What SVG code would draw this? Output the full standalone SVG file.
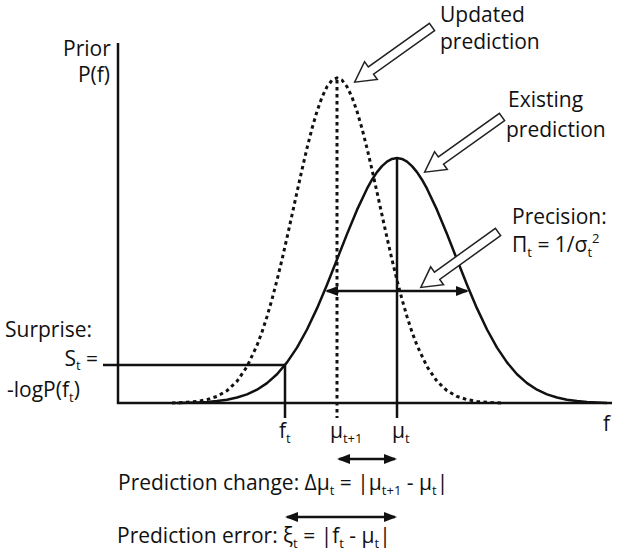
<svg xmlns="http://www.w3.org/2000/svg" width="617" height="552" viewBox="0 0 617 552">
<defs>
<style>
.t{font-family:"Open Sans","Liberation Sans",sans-serif;font-size:21px;fill:#111}
.s{font-size:13px}
.ln{stroke:#111;stroke-width:2.5;fill:none}
.dot{stroke:#111;stroke-width:3;fill:none;stroke-dasharray:3.5 3.5}
.ha{fill:#fff;stroke:#222;stroke-width:1.5;stroke-linejoin:miter}
.da{stroke:#111;stroke-width:2.5;fill:none;marker-start:url(#ah);marker-end:url(#ah)}
</style>
<marker id="ah" viewBox="0 0 13 10" refX="11" refY="5" markerWidth="13" markerHeight="10" markerUnits="userSpaceOnUse" orient="auto-start-reverse">
<path d="M0,0 L13,5 L0,10 Z" fill="#111"/>
</marker>
<polygon id="hollow" points="0,-4.5 75,-4.5 75,-11 95,0 75,11 75,4.5 0,4.5"/>
</defs>
<rect width="617" height="552" fill="#fff"/>

<g id="connectors">
<path class="ln" d="M118,43 V404 M117,403 H612"/>
<path class="ln" d="M103,365 H285 M285,365 V418"/>
<polyline class="ln" stroke-linejoin="round" points="177,403 197,402.4 207,401.9 217,401 227,399.7 237,397.5 247,394.4 257,389.7 267,383.1 277,374.2 287,362.4 297,347.6 307,329.5 317,308.4 327,284.7 337,259.5 347,234.1 357,209.9 367,188.7 372,179.7 377,172.1 382,166.1 387,161.6 392,158.9 397,158 402,158.9 407,161.6 412,166.1 417,172.1 422,179.7 427,188.7 437,209.9 447,234.1 457,259.5 467,284.7 477,308.4 487,329.5 497,347.6 507,362.4 517,374.2 527,383.1 537,389.7 547,394.4 557,397.5 567,399.7 577,401 587,401.9 597,402.4 607,403"/>
<polyline class="dot" points="172,403 187,402.3 197,401.4 207,399.6 217,396.4 227,390.7 237,381.3 247,366.6 257,345.4 262,332 267,316.6 272,299.3 277,280.2 282,259.6 287,237.7 292,215 297,192.1 302,169.6 307,148.2 312,128.5 317,111.3 322,97.2 327,86.7 332,80.2 337,78 342,80.2 347,86.7 352,97.2 357,111.3 362,128.5 367,148.2 372,169.6 377,192.1 382,215 387,237.7 392,259.6 397,280.2 402,299.3 407,316.6 412,332 417,345.4 427,366.6 437,381.3 447,390.7 457,396.4 467,399.6 477,401.4 487,402.3 502,403"/>
<path class="ln" d="M397,158 V418"/>
<path class="dot" d="M337,80 V418"/>
<line class="da" x1="327" y1="291" x2="467" y2="291"/>
<line class="da" x1="339" y1="459" x2="395" y2="459"/>
<line class="da" x1="287" y1="517" x2="395" y2="517"/>
<use href="#hollow" class="ha" transform="translate(432,27) rotate(144.5)"/>
<use href="#hollow" class="ha" transform="translate(502,117) rotate(144.5)"/>
<use href="#hollow" class="ha" transform="translate(498,232) rotate(144.3)"/>
</g>

<g id="prior-label">
<text class="t" x="63" y="56">Prior</text>
<text class="t" x="110" y="82" text-anchor="end">P(f)</text>
</g>
<g id="updated-label">
<text class="t" x="440" y="22">Updated</text>
<text class="t" x="440" y="49">prediction</text>
</g>
<g id="existing-label">
<text class="t" x="508" y="107">Existing</text>
<text class="t" x="506" y="137">prediction</text>
</g>
<g id="precision-label">
<text class="t" x="512" y="224">Precision:</text>
<text class="t" x="512" y="252">Π<tspan class="s" dy="5">t</tspan><tspan dy="-5"> = 1/σ</tspan><tspan class="s" dy="5">t</tspan><tspan class="s" dy="-14">2</tspan></text>
</g>
<g id="surprise-label">
<text class="t" x="5" y="337">Surprise:</text>
<text class="t" x="98" y="366" text-anchor="end">S<tspan class="s" dy="4">t</tspan><tspan dy="-4"> =</tspan></text>
<text class="t" x="7" y="397">-logP(f<tspan class="s" dy="5">t</tspan><tspan dy="-5">)</tspan></text>
</g>
<g id="tick-labels">
<text class="t" x="279" y="438">f<tspan class="s" dy="5">t</tspan></text>
<text class="t" x="330" y="438">μ<tspan class="s" dy="5">t+1</tspan></text>
<text class="t" x="392" y="438">μ<tspan class="s" dy="5">t</tspan></text>
<text class="t" x="603" y="431">f</text>
</g>
<g id="change-label">
<text class="t" x="118" y="490">Prediction change: Δμ<tspan class="s" dy="5">t</tspan><tspan dy="-5"> = |μ</tspan><tspan class="s" dy="5">t+1</tspan><tspan dy="-5"> - μ</tspan><tspan class="s" dy="5">t</tspan><tspan dy="-5">|</tspan></text>
</g>
<g id="error-label">
<text class="t" x="117" y="543">Prediction error: ξ<tspan class="s" dy="5">t</tspan><tspan dy="-5"> = |f</tspan><tspan class="s" dy="5">t</tspan><tspan dy="-5"> - μ</tspan><tspan class="s" dy="5">t</tspan><tspan dy="-5">|</tspan></text>
</g>
</svg>
